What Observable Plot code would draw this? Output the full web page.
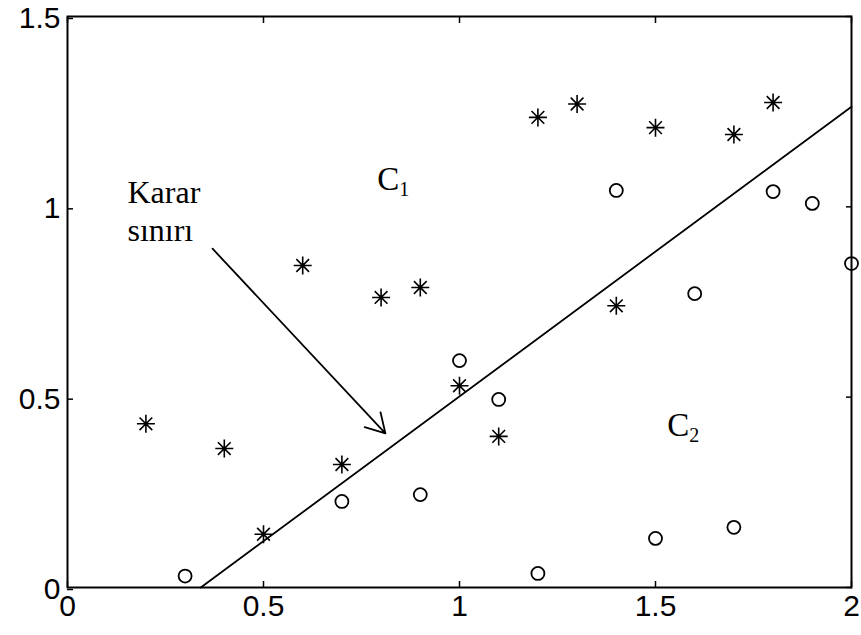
<!DOCTYPE html>
<html>
<head>
<meta charset="utf-8">
<script src="https://cdn.jsdelivr.net/npm/d3@7"></script>
<script src="https://cdn.jsdelivr.net/npm/@observablehq/plot@0.6"></script>
<style>
  body { margin: 0; background: #fff; }
  svg { font-family: "Liberation Sans", Arial, sans-serif; }
</style>
</head>
<body>
<div id="chart"></div>
<script>
// Class C1 (stars)
const c1X = [0.2, 0.4, 0.5, 0.6, 0.7, 0.8, 0.9, 1.0, 1.1, 1.2, 1.3, 1.4, 1.5, 1.7, 1.8];
const c1Y = [0.43, 0.365, 0.14, 0.846, 0.323, 0.762, 0.788, 0.53, 0.397, 1.235, 1.27, 0.74, 1.208, 1.19, 1.274];
// Class C2 (circles)
const c2X = [0.3, 0.7, 0.9, 1.0, 1.1, 1.2, 1.4, 1.5, 1.6, 1.7, 1.8, 1.9, 2.0];
const c2Y = [0.03, 0.226, 0.244, 0.596, 0.494, 0.037, 1.043, 0.129, 0.772, 0.158, 1.04, 1.009, 0.851];
// Decision boundary end points
const boundaryX = [0.34, 2.0];
const boundaryY = [0.0, 1.263];
// Annotation arrow (from label to boundary)
const arrowFrom = [0.37, 0.89];
const arrowTo = [0.811, 0.405];
// Tick values
const xTicks = [0, 0.5, 1, 1.5, 2];
const yTicks = [0, 0.5, 1, 1.5];
// Text annotations
const notes = [
  {text: "Karar", x: 0.153, y: 1.011},
  {text: "sınırı", x: 0.153, y: 0.909}
];
const classLabels = [
  {text: "C", sub: "1", x: 0.79, y: 1.043},
  {text: "C", sub: "2", x: 1.53, y: 0.399}
];

const c1 = c1X.map((x, i) => ({x, y: c1Y[i]}));
const c2 = c2X.map((x, i) => ({x, y: c2Y[i]}));
const boundary = boundaryX.map((x, i) => ({x, y: boundaryY[i]}));

const star8 = {
  draw(context, size) {
    const r = Math.sqrt(size / Math.PI);
    const d = r * Math.SQRT1_2;
    context.moveTo(-r, 0); context.lineTo(r, 0);
    context.moveTo(0, -r); context.lineTo(0, r);
    context.moveTo(-d, -d); context.lineTo(d, d);
    context.moveTo(-d, d); context.lineTo(d, -d);
  }
};

const serif = "'Liberation Serif', 'Times New Roman', serif";

const chart = Plot.plot({
  width: 861,
  height: 635,
  marginLeft: 67,
  marginRight: 10,
  marginTop: 16,
  marginBottom: 48,
  style: {fontFamily: "'Liberation Sans', Arial, sans-serif", background: "#fff", color: "#000"},
  x: {domain: [0, 2]},
  y: {domain: [0, 1.5]},
  marks: [
    Plot.axisX({anchor: "bottom", ticks: xTicks, tickSize: -6, tickPadding: 13, fontSize: 30, tickFormat: d => String(d), label: null, strokeWidth: 1.5}),
    Plot.axisX({anchor: "top", ticks: xTicks, tickSize: -6, tickFormat: () => "", label: null, strokeWidth: 1.5}),
    Plot.axisY({anchor: "left", ticks: yTicks, tickSize: -6, tickPadding: 13, fontSize: 30, dy: 2, tickFormat: d => String(d), label: null, strokeWidth: 1.5}),
    Plot.axisY({anchor: "right", ticks: yTicks, tickSize: -6, tickFormat: () => "", label: null, strokeWidth: 1.5}),
    Plot.frame({stroke: "#000", strokeWidth: 2}),
    Plot.line(boundary, {x: "x", y: "y", stroke: "#000", strokeWidth: 1.8}),
    Plot.arrow([{x1: arrowFrom[0], y1: arrowFrom[1], x2: arrowTo[0], y2: arrowTo[1]}], {
      x1: "x1", y1: "y1", x2: "x2", y2: "y2", stroke: "#000", strokeWidth: 1.8, headLength: 18, bend: 0
    }),
    Plot.dot(c1, {x: "x", y: "y", symbol: star8, r: 9, stroke: "#000", strokeWidth: 1.6, fill: "none"}),
    Plot.dot(c2, {x: "x", y: "y", symbol: "circle", r: 6.5, stroke: "#000", strokeWidth: 1.8, fill: "none"}),
    Plot.text(notes, {x: "x", y: "y", text: "text", textAnchor: "start", lineAnchor: "bottom", fontSize: 32, fontFamily: serif, fill: "#000"}),
    Plot.text(classLabels, {x: "x", y: "y", text: "text", textAnchor: "start", lineAnchor: "bottom", fontSize: 33, fontFamily: serif, fill: "#000"}),
    Plot.text(classLabels, {x: "x", y: "y", text: "sub", textAnchor: "start", lineAnchor: "bottom", fontSize: 20, dx: 22, dy: 6, fontFamily: serif, fill: "#000"})
  ]
});
document.getElementById("chart").appendChild(chart);
</script>
</body>
</html>
